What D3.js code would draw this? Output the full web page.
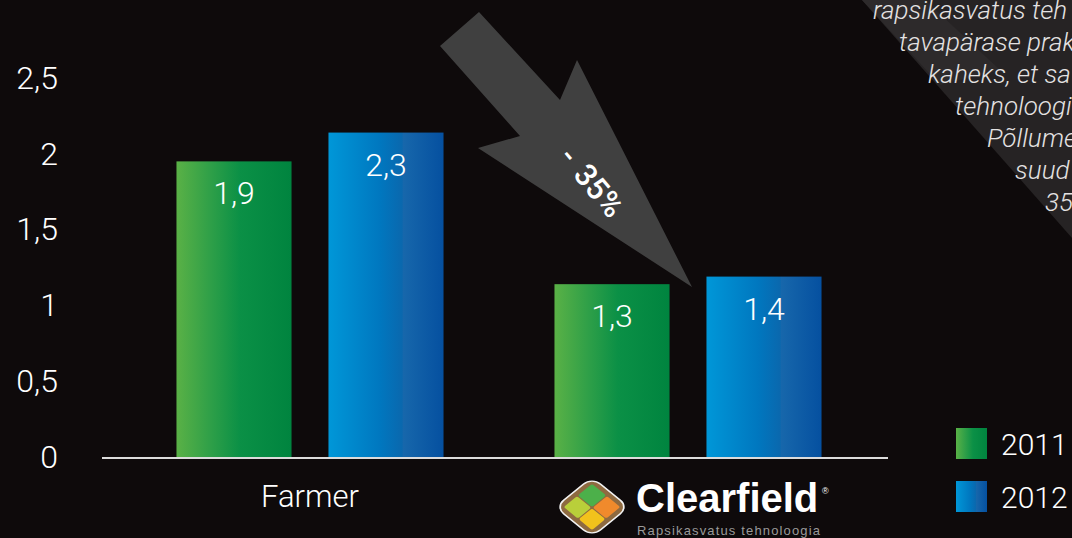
<!DOCTYPE html>
<html>
<head>
<meta charset="utf-8">
<script src="https://cdn.jsdelivr.net/npm/d3@7"></script>
<style>
  html, body { margin: 0; padding: 0; background: #0e0a0b; }
  svg { display: block; font-family: Roboto, "Liberation Sans", sans-serif; }
</style>
</head>
<body>
<div id="root"></div>
<script>
// data
const groups = ["Farmer", "Clearfield"];
const years = ["2011", "2012"];
const barValues = [
  [1.95, 2.14], // Farmer
  [1.14, 1.19], // Clearfield
];
const barLabels = [
  ["1,9", "2,3"],
  ["1,3", "1,4"],
];
const yTicks = [0, 0.5, 1, 1.5, 2, 2.5];
const noteLines = [
  "rapsikasvatus teh",
  "tavapärase prak",
  "kaheks, et sa",
  "tehnoloogi",
  "Põllume",
  "suud",
  "35",
];

const width = 1072;
const height = 538;

const svg = d3
  .select("#root")
  .append("svg")
  .attr("width", width)
  .attr("height", height)
  .attr("viewBox", `0 0 ${width} ${height}`);

svg.append("rect").attr("width", width).attr("height", height).attr("fill", "#0e0a0b");

const defs = svg.append("defs");

function gradient(id, stops) {
  const g = defs.append("linearGradient").attr("id", id).attr("x1", 0).attr("x2", 1).attr("y1", 0).attr("y2", 0);
  stops.forEach(([o, c]) => g.append("stop").attr("offset", o).attr("stop-color", c));
}
gradient("g2011", [["0%", "#5ab146"], ["30%", "#2e9f48"], ["55%", "#0b9046"], ["100%", "#00843f"]]);
gradient("g2012", [["0%", "#0097d8"], ["45%", "#0077bf"], ["64%", "#0a68ae"], ["65%", "#1767ab"], ["100%", "#0550a0"]]);
const fills = { "2011": "url(#g2011)", "2012": "url(#g2012)" };

// background decoration, top right
svg.append("polygon")
  .attr("points", "862,0 1072,0 1072,238")
  .attr("fill", "#262324");
svg.append("polygon")
  .attr("points", "862,0 925,0 1000,70 940,85")
  .attr("fill", "#2d2a2b");

// note text (cut off at right edge, as in the source)
svg.append("g")
  .selectAll("text")
  .data(noteLines)
  .join("text")
  .attr("x", (d, i) => [873, 899, 928, 955, 987, 1015, 1045][i])
  .attr("y", (d, i) => 19 + i * 32)
  .attr("font-size", 26)
  .attr("font-style", "italic")
  .attr("font-weight", 300)
  .attr("fill", "#e4e2e2")
  .text((d) => d);

// scales
const yScale = d3.scaleLinear().domain([0, 2.5]).range([457, 78]);
const xGroup = d3.scaleBand().domain(groups).range([121, 877]).paddingInner(0).paddingOuter(0);
const xYear = d3.scaleBand().domain(years).range([0, xGroup.bandwidth()]).paddingInner(0.243).paddingOuter(0.365);

// arrow
svg.append("polygon")
  .attr("points", "440,46 479,12 560,100 577,60 692,287 478,148 520,136")
  .attr("fill", "#404040");
const arrowText = svg.append("text")
  .attr("transform", "translate(592,182) rotate(50)")
  .attr("text-anchor", "middle")
  .attr("dy", "0.35em")
  .attr("font-size", 31)
  .attr("font-weight", 500)
  .attr("fill", "#ffffff");
arrowText.append("tspan").text("-");
arrowText.append("tspan").attr("dx", 12).text("35%");

// bars
const chart = svg.append("g");
const groupG = chart
  .selectAll("g.group")
  .data(groups)
  .join("g")
  .attr("class", "group")
  .attr("transform", (d) => `translate(${xGroup(d)},0)`);

const barData = (d, gi) =>
  years.map((y, yi) => ({ year: y, value: barValues[gi][yi], label: barLabels[gi][yi] }));

groupG
  .selectAll("rect")
  .data(barData)
  .join("rect")
  .attr("x", (d) => xYear(d.year))
  .attr("y", (d) => yScale(d.value))
  .attr("width", xYear.bandwidth())
  .attr("height", (d) => yScale(0) - yScale(d.value))
  .attr("fill", (d) => fills[d.year]);

groupG
  .selectAll("text")
  .data(barData)
  .join("text")
  .attr("x", (d) => xYear(d.year) + xYear.bandwidth() / 2)
  .attr("y", (d) => yScale(d.value) + 43)
  .attr("text-anchor", "middle")
  .attr("font-size", 32)
  .attr("font-weight", 300)
  .attr("fill", "#ffffff")
  .text((d) => d.label);

// baseline
svg.append("line")
  .attr("x1", 102)
  .attr("x2", 888)
  .attr("y1", yScale(0) + 1)
  .attr("y2", yScale(0) + 1)
  .attr("stroke", "#dcdcdc")
  .attr("stroke-width", 2);

// left axis
const leftAxis = d3
  .axisLeft(yScale)
  .tickValues(yTicks)
  .tickSize(0)
  .tickPadding(4)
  .tickFormat((d) => String(d).replace(".", ","));
const yAxisG = svg.append("g").attr("transform", "translate(62,0)").call(leftAxis);
yAxisG.select(".domain").remove();
yAxisG.selectAll("text")
  .attr("font-size", 32)
  .attr("font-weight", 300)
  .attr("font-family", "Roboto, sans-serif")
  .attr("fill", "#ffffff");

// category label
svg.append("text")
  .attr("x", xGroup("Farmer") + xGroup.bandwidth() / 2)
  .attr("y", 507)
  .attr("text-anchor", "middle")
  .attr("font-size", 31)
  .attr("font-weight", 300)
  .attr("fill", "#ffffff")
  .text("Farmer");

// Clearfield logo in place of the second label
const logo = svg.append("g").attr("transform", `translate(${xGroup("Clearfield") + xGroup.bandwidth() / 2},0)`);
const mark = logo.append("g").attr("transform", "translate(-96,507) scale(1.18,0.96) rotate(45)");
mark.append("rect").attr("x", -22).attr("y", -22).attr("width", 44).attr("height", 44).attr("rx", 10)
  .attr("fill", "#8e6a40").attr("stroke", "#f2f2f2").attr("stroke-width", 1.5);
mark.append("rect").attr("x", -17).attr("y", -17).attr("width", 17).attr("height", 17).attr("rx", 2).attr("fill", "#4cb04a");
mark.append("rect").attr("x", 1).attr("y", -17).attr("width", 16).attr("height", 17).attr("rx", 2).attr("fill", "#f08a2c");
mark.append("rect").attr("x", -17).attr("y", 1).attr("width", 17).attr("height", 16).attr("rx", 2).attr("fill", "#b9cf3a");
mark.append("rect").attr("x", 1).attr("y", 1).attr("width", 16).attr("height", 16).attr("rx", 2).attr("fill", "#f2c21c");
logo.append("text")
  .attr("x", -52)
  .attr("y", 512)
  .attr("font-family", "'Liberation Sans', Arial, sans-serif")
  .attr("font-weight", 700)
  .attr("font-size", 40)
  .attr("fill", "#ffffff")
  .text("Clearfield");
logo.append("text")
  .attr("x", 134)
  .attr("y", 494)
  .attr("font-family", "'Liberation Sans', Arial, sans-serif")
  .attr("font-size", 9)
  .attr("fill", "#ffffff")
  .text("®");
logo.append("text")
  .attr("x", -51)
  .attr("y", 535)
  .attr("font-family", "'Liberation Sans', Arial, sans-serif")
  .attr("font-size", 13)
  .attr("textLength", 183)
  .attr("fill", "#9a9a9a")
  .text("Rapsikasvatus tehnoloogia");

// legend
const legend = svg.append("g").attr("transform", "translate(956,428)");
const legendItem = legend
  .selectAll("g")
  .data(years)
  .join("g")
  .attr("transform", (d, i) => `translate(0,${i * 53})`);
legendItem.append("rect").attr("width", 31).attr("height", 31).attr("fill", (d) => fills[d]);
legendItem.append("text")
  .attr("x", 45)
  .attr("y", 27)
  .attr("font-size", 30)
  .attr("font-weight", 300)
  .attr("fill", "#ffffff")
  .text((d) => d);
</script>
</body>
</html>
